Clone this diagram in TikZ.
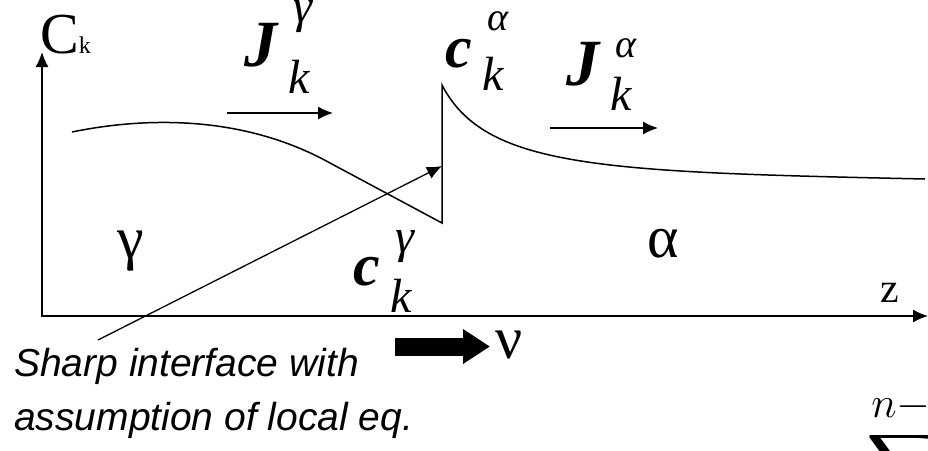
\documentclass[tikz,border=0pt]{standalone}
\usepackage{fix-cm}
\usepackage{amsmath,amssymb,amsfonts}
\usepackage{fontspec}
\setmainfont{Liberation Serif}
\newfontfamily\notefont{Liberation Sans}
\usetikzlibrary{arrows.meta,positioning}

% bold letter with stacked super/subscript: letter, sup, sub, raise, drop
\newcommand{\symb}[5]{{\bfseries\itshape #1}\kern11pt\rlap{\kern5pt\raisebox{#4}{\fontsize{48}{48}\selectfont\itshape #2}}\raisebox{-#5}{\fontsize{48}{48}\selectfont\itshape #3}}

\begin{document}
\begin{tikzpicture}[x=1pt, y=-1pt,
  ax/.style={line width=1.3pt, {Latex[length=15pt,width=13pt]}-{Latex[length=15pt,width=13pt]}},
  arr/.style={line width=1.3pt, -{Latex[length=15pt,width=13pt]}},
  prof/.style={line width=1.5pt},
  symJ/.style={inner sep=0, anchor=base west, font=\fontsize{66}{66}\selectfont},
  symc/.style={inner sep=0, anchor=base west, font=\fontsize{60}{60}\selectfont},
  greek/.style={inner sep=0, anchor=base west, font=\fontsize{60}{60}\selectfont},
  lbl/.style={inner sep=0, anchor=base west, font=\fontsize{42}{42}\selectfont},
  note/.style={inner sep=0, anchor=north west, align=left,
               font=\notefont\itshape\fontsize{39}{54}\selectfont}
]
\useasboundingbox (0,0) rectangle (928,450);

% axes
\coordinate (ytop) at (42,52);
\coordinate (o) at (42,316);
\coordinate (xend) at (928,316);
\draw[ax] (ytop) -- (o) -- (xend);
\node[lbl] (ck) at (40,53) {\fontsize{58}{58}\selectfont C{\fontsize{24}{24}\selectfont k}};
\node[lbl] (z) at (880,302) {z};

% concentration profile
\coordinate (g0) at (72,132);
\coordinate (glow) at (442,223);
\coordinate (ahigh) at (442,85);
\coordinate (a1) at (925,179);
\draw[prof] (g0) .. controls (140,118) and (240,113) .. (330,163) -- (glow)
  -- (ahigh) .. controls (485,168) and (600,172) .. (a1);

% fluxes
\coordinate (jg0) at (227,113);
\coordinate (jg1) at (333,113);
\coordinate (ja0) at (550,128);
\coordinate (ja1) at (658,128);
\draw[arr] (jg0) -- (jg1);
\draw[arr] (ja0) -- (ja1);
\node[symJ] (Jg) at (244,66) {\symb{J}{γ}{k}{44pt}{27pt}};
\node[symJ] (Ja) at (566,85) {\symb{J}{\fontsize{40}{40}\selectfont α}{k}{28pt}{25pt}};
\node[symc] (ca) at (445,67) {\symb{c}{\fontsize{40}{40}\selectfont α}{k}{37pt}{23pt}};
\node[symc] (cg) at (353,285) {\symb{c}{γ}{k}{33pt}{27pt}};

% phases
\node[greek] (gam) at (117,258) {γ};
\node[greek] (alp) at (647,257) {α};

% interface velocity
\coordinate (v0) at (395,346.5);
\coordinate (v1) at (490,346.5);
\draw[line width=18pt, -{Triangle[length=27pt,width=33pt]}] (v0) -- (v1);
\node[greek] (nu) at (495,358) {ν};

% note
\node[note] (note) at (14,348) {Sharp interface with\\assumption of local eq.};
\coordinate (nt) at (98,340);
\coordinate (ifc) at (442,166);
\draw[arr] (nt) -- (ifc);

\node[inner sep=0, anchor=north west, font=\fontsize{62}{62}\selectfont] (sum) at (866,383) {$\displaystyle\sum^{n-1}$};
\end{tikzpicture}
\end{document}
